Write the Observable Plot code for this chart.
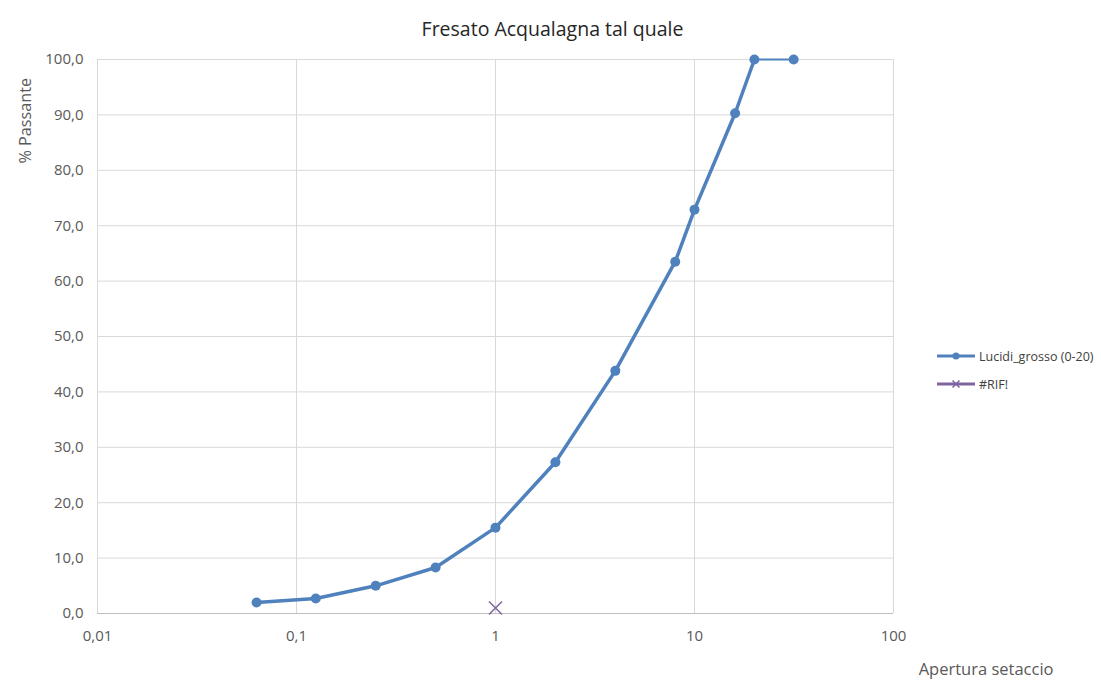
<!DOCTYPE html>
<html>
<head>
<meta charset="utf-8">
<script src="https://cdn.jsdelivr.net/npm/d3@7"></script>
<script src="https://cdn.jsdelivr.net/npm/@observablehq/plot@0.6"></script>
<style>
  html, body { margin: 0; padding: 0; background: #fff; }
  #chart { position: relative; width: 1101px; height: 682px; font-family: "Open Sans", "Noto Sans", sans-serif; }
  #chart svg g[aria-label$="tick label"] text { font-size: 15px; }
  .legend { position: absolute; left: 936px; top: 342px; font-size: 12.5px; color: #404040; }
  .legend .row { display: flex; align-items: center; height: 28px; }
  .legend svg { margin-right: 3px; }
</style>
</head>
<body>
<div id="chart"></div>
<script>
// Sieve apertures (mm) and cumulative passing (%)
const apertures = [0.063, 0.125, 0.25, 0.5, 1, 2, 4, 8, 10, 16, 20, 31.5];
const passing   = [2.0, 2.7, 5.0, 8.3, 15.5, 27.3, 43.8, 63.5, 72.9, 90.3, 100.0, 100.0];

// Reference series (single marker)
const rifX = [1];
const rifY = [1.0];

const xTicks = [0.01, 0.1, 1, 10, 100];
const yTicks = [0, 10, 20, 30, 40, 50, 60, 70, 80, 90, 100];

const seriesName = "Lucidi_grosso (0-20)";
const rifName = "#RIF!";
const title = "Fresato Acqualagna tal quale";
const xLabel = "Apertura setaccio";
const yLabel = "% Passante";

const blue = "#4f81bd";
const purple = "#8064a2";

const data = apertures.map((a, i) => ({x: a, y: passing[i]}));
const mainPart = data.slice(0, 11);
const tailPart = data.slice(10);
const rif = rifX.map((x, i) => ({x, y: rifY[i]}));

const fmtX = d => String(d).replace(".", ",");
const fmtY = d => d.toFixed(1).replace(".", ",");

const chart = Plot.plot({
  width: 1101,
  height: 682,
  marginLeft: 97,
  marginRight: 208,
  marginTop: 59,
  marginBottom: 69,
  style: {fontFamily: "'Open Sans', 'Noto Sans', sans-serif", fontSize: "15px", color: "#595959", background: "#fff", overflow: "visible"},
  x: {type: "log", domain: [0.01, 100]},
  y: {domain: [0, 100]},
  marks: [
    Plot.gridX(xTicks, {stroke: "#d9d9d9", strokeOpacity: 1}),
    Plot.gridY(yTicks, {stroke: "#d9d9d9", strokeOpacity: 1}),
    Plot.ruleY([0], {stroke: "#bfbfbf"}),
    Plot.axisX(xTicks, {tickSize: 0, tickPadding: 17, tickFormat: fmtX, label: null, fill: "#595959"}),
    Plot.axisY(yTicks, {tickSize: 0, tickPadding: 14, tickFormat: fmtY, label: null, fill: "#595959"}),
    Plot.line(mainPart, {x: "x", y: "y", stroke: blue, strokeWidth: 3.5}),
    Plot.line(tailPart, {x: "x", y: "y", stroke: blue, strokeWidth: 2}),
    Plot.dot(data, {x: "x", y: "y", r: 5, fill: blue}),
    Plot.dot(rif, {x: "x", y: "y", symbol: "times", r: 6, stroke: purple, strokeWidth: 1.5}),
    Plot.text([title], {frameAnchor: "top", dx: 57, dy: -37, fontSize: 19.5, fill: "#262626"}),
    Plot.text([xLabel], {frameAnchor: "bottom-right", dx: 160, dy: 61, fontSize: 16.5, fill: "#595959"}),
    Plot.text([yLabel], {frameAnchor: "top-left", dx: -78, dy: 104, rotate: -90, fontSize: 16.2, fill: "#595959"})
  ]
});

const root = document.getElementById("chart");
root.appendChild(chart);

// Legend
const legend = document.createElement("div");
legend.className = "legend";
legend.innerHTML = `
  <div class="row"><svg width="40" height="10"><line x1="1" y1="5" x2="39" y2="5" stroke="${blue}" stroke-width="3"/><circle cx="20" cy="5" r="3.5" fill="${blue}"/></svg><span>${seriesName}</span></div>
  <div class="row"><svg width="40" height="10"><line x1="1" y1="5" x2="39" y2="5" stroke="${purple}" stroke-width="3"/><path d="M16.5 1.5 L23.5 8.5 M23.5 1.5 L16.5 8.5" stroke="${purple}" stroke-width="1.5"/></svg><span>${rifName}</span></div>`;
root.appendChild(legend);
</script>
</body>
</html>
